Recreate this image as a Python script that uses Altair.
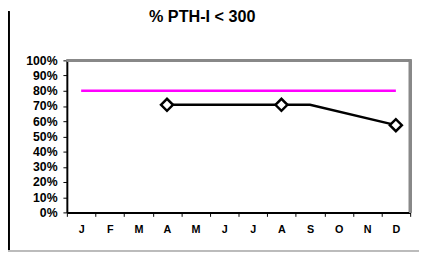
import altair as alt
import pandas as pd

# ---- data ----
month_index = [1, 2, 3, 4, 5, 6, 7, 8, 9, 10, 11, 12]
month_labels = ["J", "F", "M", "A", "M", "J", "J", "A", "S", "O", "N", "D"]
target_values = [80, 80, 80, 80, 80, 80, 80, 80, 80, 80, 80, 80]
pth_values = [None, None, None, 70.8, None, None, None, 70.8, 70.8, None, None, 57.4]
marker_values = [None, None, None, 70.8, None, None, None, 70.8, None, None, None, 57.4]
y_ticks = [0, 10, 20, 30, 40, 50, 60, 70, 80, 90, 100]
title_text = "% PTH-I < 300"

df = pd.DataFrame({
    "m": month_index,
    "target": target_values,
    "pth": pth_values,
    "marker": marker_values,
})

W, H = 350, 155
FONT = "Liberation Sans"

label_expr = "[" + ",".join("'%s'" % s for s in month_labels) + "][datum.value - 1]"

x_axis = alt.Axis(
    title=None, labelExpr=label_expr, labelAngle=0, tickBand="extent",
    domainColor="black", domainWidth=2, tickColor="black", tickSize=4, tickWidth=1,
    labelFont=FONT, labelFontWeight="bold", labelFontSize=11, labelColor="black",
    labelPadding=7, grid=False, labelOverlap=False,
)
y_axis = alt.Axis(
    title=None, values=y_ticks, labelExpr="datum.value + '%'",
    domainColor="black", domainWidth=2, tickColor="black", tickSize=4, tickWidth=1,
    labelFont=FONT, labelFontWeight="bold", labelFontSize=12.5, labelColor="black",
    labelPadding=6, grid=False, labelOverlap=False, tickCount=11,
)

x_enc = alt.X("m:O", scale=alt.Scale(type="band", paddingInner=0, paddingOuter=0),
              axis=x_axis, bandPosition=0.5)
y_scale = alt.Scale(domain=[0, 100], nice=False)

base = alt.Chart(df)

target_line = base.mark_line(color="#FF00FF", strokeWidth=2.5).encode(
    x=x_enc, y=alt.Y("target:Q", scale=y_scale, axis=y_axis)
)
pth_line = base.transform_filter("isValid(datum.pth)").mark_line(
    color="black", strokeWidth=2.5
).encode(x=x_enc, y=alt.Y("pth:Q", scale=y_scale, axis=y_axis))
pth_points = base.transform_filter("isValid(datum.marker)").mark_point(
    shape="diamond", filled=True, fill="white", stroke="black", strokeWidth=2.5,
    size=150, opacity=1
).encode(x=x_enc, y=alt.Y("marker:Q", scale=y_scale, axis=y_axis))

# plot frame (top and right, grey)
frame_top = base.mark_rule(color="#888888", strokeWidth=2.5).encode(
    x=alt.value(0), x2=alt.value(W + 1), y=alt.value(0)
)
frame_right = base.mark_rule(color="#888888", strokeWidth=2.5).encode(
    x=alt.value(W), y=alt.value(0), y2=alt.value(H)
)
# outer picture border (left black, bottom grey)
outer_left = base.mark_rule(color="black", strokeWidth=1.5).encode(
    x=alt.value(-59.5), y=alt.value(-50), y2=alt.value(H + 40)
)
outer_bottom = base.mark_rule(color="#BBBBBB", strokeWidth=1.5).encode(
    x=alt.value(-60), x2=alt.value(W + 10), y=alt.value(H + 39)
)

# title as a text mark (one row)
title_mark = alt.Chart(pd.DataFrame({"t": [title_text]})).mark_text(
    font=FONT, fontSize=16.5, fontWeight="bold", color="black",
    align="center", baseline="alphabetic",
).encode(text="t:N", x=alt.value(138), y=alt.value(-39))

chart = alt.layer(
    frame_top, frame_right, outer_left, outer_bottom, target_line, pth_line, pth_points,
    title_mark,
).properties(
    width=W, height=H,
    padding={"left": 60, "top": 51, "right": 9, "bottom": 40},
    autosize="none",
).configure_view(stroke=None).configure(background="white")

chart.save("out.html", embed_options={"renderer": "svg", "actions": False})
